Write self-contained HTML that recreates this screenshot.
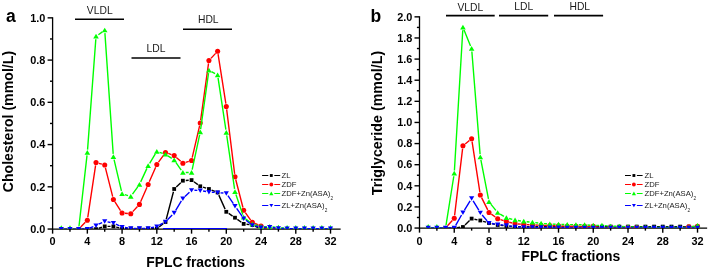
<!DOCTYPE html>
<html><head><meta charset="utf-8"><style>
html,body{margin:0;padding:0;background:#fff;}
body{width:709px;height:270px;overflow:hidden;}
svg{display:block;will-change:transform;}
text{font-family:"Liberation Sans",sans-serif;fill:#000;}
.tl{font-size:10.9px;font-weight:bold;}
.bl{font-size:10.3px;fill:#1a1a1a;}
.lg{font-size:7.68px;fill:#1a1a1a;}
.sb{font-size:4.7px;}
.pl{font-size:17.5px;font-weight:bold;}
.at{font-size:13.9px;font-weight:bold;}
</style></head><body>
<svg width="709" height="270" viewBox="0 0 709 270">
<rect width="709" height="270" fill="#fff"/>
<clipPath id="ca"><rect x="51.60" y="0" width="289.40" height="229.05"/></clipPath>
<path d="M52.60 17.85V229.05H340.00" stroke="#000" stroke-width="1.3" fill="none" stroke-linecap="square"/>
<line x1="47.60" y1="229.05" x2="52.60" y2="229.05" stroke="#000" stroke-width="1.4"/>
<text x="45.40" y="232.75" class="tl" text-anchor="end">0.0</text>
<line x1="50.00" y1="207.93" x2="52.60" y2="207.93" stroke="#000" stroke-width="1.4"/>
<line x1="47.60" y1="186.81" x2="52.60" y2="186.81" stroke="#000" stroke-width="1.4"/>
<text x="45.40" y="190.51" class="tl" text-anchor="end">0.2</text>
<line x1="50.00" y1="165.69" x2="52.60" y2="165.69" stroke="#000" stroke-width="1.4"/>
<line x1="47.60" y1="144.57" x2="52.60" y2="144.57" stroke="#000" stroke-width="1.4"/>
<text x="45.40" y="148.27" class="tl" text-anchor="end">0.4</text>
<line x1="50.00" y1="123.45" x2="52.60" y2="123.45" stroke="#000" stroke-width="1.4"/>
<line x1="47.60" y1="102.33" x2="52.60" y2="102.33" stroke="#000" stroke-width="1.4"/>
<text x="45.40" y="106.03" class="tl" text-anchor="end">0.6</text>
<line x1="50.00" y1="81.21" x2="52.60" y2="81.21" stroke="#000" stroke-width="1.4"/>
<line x1="47.60" y1="60.09" x2="52.60" y2="60.09" stroke="#000" stroke-width="1.4"/>
<text x="45.40" y="63.79" class="tl" text-anchor="end">0.8</text>
<line x1="50.00" y1="38.97" x2="52.60" y2="38.97" stroke="#000" stroke-width="1.4"/>
<line x1="47.60" y1="17.85" x2="52.60" y2="17.85" stroke="#000" stroke-width="1.4"/>
<text x="45.40" y="21.55" class="tl" text-anchor="end">1.0</text>
<line x1="52.60" y1="229.05" x2="52.60" y2="233.65" stroke="#000" stroke-width="1.4"/>
<text x="52.60" y="244.70" class="tl" text-anchor="middle">0</text>
<line x1="69.97" y1="229.05" x2="69.97" y2="231.65" stroke="#000" stroke-width="1.4"/>
<line x1="87.34" y1="229.05" x2="87.34" y2="233.65" stroke="#000" stroke-width="1.4"/>
<text x="87.34" y="244.70" class="tl" text-anchor="middle">4</text>
<line x1="104.71" y1="229.05" x2="104.71" y2="231.65" stroke="#000" stroke-width="1.4"/>
<line x1="122.08" y1="229.05" x2="122.08" y2="233.65" stroke="#000" stroke-width="1.4"/>
<text x="122.08" y="244.70" class="tl" text-anchor="middle">8</text>
<line x1="139.45" y1="229.05" x2="139.45" y2="231.65" stroke="#000" stroke-width="1.4"/>
<line x1="156.82" y1="229.05" x2="156.82" y2="233.65" stroke="#000" stroke-width="1.4"/>
<text x="156.82" y="244.70" class="tl" text-anchor="middle">12</text>
<line x1="174.19" y1="229.05" x2="174.19" y2="231.65" stroke="#000" stroke-width="1.4"/>
<line x1="191.56" y1="229.05" x2="191.56" y2="233.65" stroke="#000" stroke-width="1.4"/>
<text x="191.56" y="244.70" class="tl" text-anchor="middle">16</text>
<line x1="208.93" y1="229.05" x2="208.93" y2="231.65" stroke="#000" stroke-width="1.4"/>
<line x1="226.30" y1="229.05" x2="226.30" y2="233.65" stroke="#000" stroke-width="1.4"/>
<text x="226.30" y="244.70" class="tl" text-anchor="middle">20</text>
<line x1="243.67" y1="229.05" x2="243.67" y2="231.65" stroke="#000" stroke-width="1.4"/>
<line x1="261.04" y1="229.05" x2="261.04" y2="233.65" stroke="#000" stroke-width="1.4"/>
<text x="261.04" y="244.70" class="tl" text-anchor="middle">24</text>
<line x1="278.41" y1="229.05" x2="278.41" y2="231.65" stroke="#000" stroke-width="1.4"/>
<line x1="295.78" y1="229.05" x2="295.78" y2="233.65" stroke="#000" stroke-width="1.4"/>
<text x="295.78" y="244.70" class="tl" text-anchor="middle">28</text>
<line x1="313.15" y1="229.05" x2="313.15" y2="231.65" stroke="#000" stroke-width="1.4"/>
<line x1="330.52" y1="229.05" x2="330.52" y2="233.65" stroke="#000" stroke-width="1.4"/>
<text x="330.52" y="244.70" class="tl" text-anchor="middle">32</text>
<g clip-path="url(#ca)">
<path d="M64.19 229.10L67.07 229.10M72.87 229.10L75.75 229.10M81.56 229.10L84.44 229.10M90.24 229.10L93.12 229.10M98.79 228.24L101.94 227.26M107.61 226.40L110.50 226.40M116.21 227.11L119.27 227.89M124.98 228.60L127.87 228.60M133.67 228.60L136.55 228.60M142.35 228.60L145.24 228.60M151.04 228.60L153.92 228.60M159.13 226.85L163.20 223.75M166.24 219.20L173.45 191.80M176.29 187.00L180.78 182.70M185.77 180.50L188.67 180.30M193.92 181.78L197.88 184.62M203.01 187.16L206.16 188.14M211.62 190.08L214.93 191.42M218.81 195.14L225.11 209.16M228.70 213.43L232.59 216.07M237.35 219.38L241.31 222.22M246.55 224.26L249.48 224.64M254.98 226.24L258.42 227.86M263.94 229.10L266.83 229.10M272.62 229.10L275.51 229.10M281.31 229.10L284.20 229.10M290.00 229.10L292.88 229.10M298.68 229.10L301.57 229.10M307.37 229.10L310.25 229.10M316.05 229.10L318.94 229.10M324.74 229.10L327.62 229.10" stroke="#000000" stroke-width="1.4" fill="none"/>
<rect x="59.39" y="227.20" width="3.80" height="3.80" fill="#000000"/>
<rect x="68.07" y="227.20" width="3.80" height="3.80" fill="#000000"/>
<rect x="76.75" y="227.20" width="3.80" height="3.80" fill="#000000"/>
<rect x="85.44" y="227.20" width="3.80" height="3.80" fill="#000000"/>
<rect x="94.12" y="227.20" width="3.80" height="3.80" fill="#000000"/>
<rect x="102.81" y="224.50" width="3.80" height="3.80" fill="#000000"/>
<rect x="111.50" y="224.50" width="3.80" height="3.80" fill="#000000"/>
<rect x="120.18" y="226.70" width="3.80" height="3.80" fill="#000000"/>
<rect x="128.87" y="226.70" width="3.80" height="3.80" fill="#000000"/>
<rect x="137.55" y="226.70" width="3.80" height="3.80" fill="#000000"/>
<rect x="146.24" y="226.70" width="3.80" height="3.80" fill="#000000"/>
<rect x="154.92" y="226.70" width="3.80" height="3.80" fill="#000000"/>
<rect x="163.60" y="220.10" width="3.80" height="3.80" fill="#000000"/>
<rect x="172.29" y="187.10" width="3.80" height="3.80" fill="#000000"/>
<rect x="180.97" y="178.80" width="3.80" height="3.80" fill="#000000"/>
<rect x="189.66" y="178.20" width="3.80" height="3.80" fill="#000000"/>
<rect x="198.34" y="184.40" width="3.80" height="3.80" fill="#000000"/>
<rect x="207.03" y="187.10" width="3.80" height="3.80" fill="#000000"/>
<rect x="215.72" y="190.60" width="3.80" height="3.80" fill="#000000"/>
<rect x="224.40" y="209.90" width="3.80" height="3.80" fill="#000000"/>
<rect x="233.09" y="215.80" width="3.80" height="3.80" fill="#000000"/>
<rect x="241.77" y="222.00" width="3.80" height="3.80" fill="#000000"/>
<rect x="250.46" y="223.10" width="3.80" height="3.80" fill="#000000"/>
<path d="M64.19 229.10L67.07 229.10M72.87 229.10L75.75 229.10M80.69 227.04L85.30 222.36M87.77 217.43L95.59 165.37M98.81 163.30L101.92 164.20M105.42 167.81L112.69 196.69M114.96 201.94L120.51 210.56M124.97 213.25L127.88 213.50M132.74 211.63L137.48 206.52M140.61 201.74L146.98 187.16M149.29 181.84L155.66 167.16M158.52 162.15L163.80 154.85M168.25 153.45L171.45 154.55M176.35 157.43L180.71 161.32M185.64 162.37L188.80 161.38M192.21 157.67L199.59 125.83M200.64 120.13L208.53 63.37M210.92 58.39L215.63 53.36M218.07 54.11L225.85 103.64M226.66 109.38L234.63 173.82M235.71 179.51L242.94 207.49M245.36 212.66L250.66 220.04M255.03 223.51L258.36 224.89M263.77 226.97L266.99 228.13M272.62 229.10L275.51 229.10M281.31 229.10L284.20 229.10M290.00 229.10L292.88 229.10M298.68 229.10L301.57 229.10M307.37 229.10L310.25 229.10M316.05 229.10L318.94 229.10M324.74 229.10L327.62 229.10" stroke="#ff0000" stroke-width="1.4" fill="none"/>
<circle cx="87.34" cy="220.30" r="2.55" fill="#ff0000"/>
<circle cx="96.03" cy="162.50" r="2.55" fill="#ff0000"/>
<circle cx="104.71" cy="165.00" r="2.55" fill="#ff0000"/>
<circle cx="113.40" cy="199.50" r="2.55" fill="#ff0000"/>
<circle cx="122.08" cy="213.00" r="2.55" fill="#ff0000"/>
<circle cx="130.77" cy="213.75" r="2.55" fill="#ff0000"/>
<circle cx="139.45" cy="204.40" r="2.55" fill="#ff0000"/>
<circle cx="148.14" cy="184.50" r="2.55" fill="#ff0000"/>
<circle cx="156.82" cy="164.50" r="2.55" fill="#ff0000"/>
<circle cx="165.50" cy="152.50" r="2.55" fill="#ff0000"/>
<circle cx="174.19" cy="155.50" r="2.55" fill="#ff0000"/>
<circle cx="182.88" cy="163.25" r="2.55" fill="#ff0000"/>
<circle cx="191.56" cy="160.50" r="2.55" fill="#ff0000"/>
<circle cx="200.25" cy="123.00" r="2.55" fill="#ff0000"/>
<circle cx="208.93" cy="60.50" r="2.55" fill="#ff0000"/>
<circle cx="217.62" cy="51.25" r="2.55" fill="#ff0000"/>
<circle cx="226.30" cy="106.50" r="2.55" fill="#ff0000"/>
<circle cx="234.99" cy="176.70" r="2.55" fill="#ff0000"/>
<circle cx="243.67" cy="210.30" r="2.55" fill="#ff0000"/>
<circle cx="252.36" cy="222.40" r="2.55" fill="#ff0000"/>
<circle cx="261.04" cy="226.00" r="2.55" fill="#ff0000"/>
<path d="M64.19 229.10L67.07 229.10M72.87 229.10L75.75 229.10M78.98 226.22L87.01 155.38M87.56 149.61L95.81 39.29M98.39 34.72L102.35 31.88M104.91 33.09L113.20 153.86M114.06 159.57L121.42 190.93M124.84 194.63L128.00 195.62M132.47 194.15L137.75 186.85M140.67 181.87L146.92 168.38M149.64 163.27L155.31 153.98M159.58 152.38L162.74 153.37M167.92 155.85L171.77 158.40M175.84 162.38L181.22 170.12M185.78 172.50L188.66 172.50M192.17 169.66L199.64 134.84M200.65 129.13L208.53 73.17M211.48 71.68L215.06 73.62M218.05 77.87L225.87 129.63M226.72 135.37L234.56 188.93M235.92 194.55L242.74 214.65M245.98 219.15L250.05 222.25M255.13 224.83L258.26 225.77M263.94 226.60L266.83 226.60M272.61 226.87L275.52 227.13M281.28 227.80L284.22 228.20M290.00 228.60L292.88 228.60M298.68 228.60L301.57 228.60M307.37 228.60L310.25 228.60M316.05 228.60L318.94 228.60M324.74 228.60L327.62 228.60" stroke="#00ff00" stroke-width="1.4" fill="none"/>
<path d="M61.29 225.25L64.09 229.97L58.49 229.97Z" fill="#00ff00"/>
<path d="M69.97 225.25L72.77 229.97L67.17 229.97Z" fill="#00ff00"/>
<path d="M78.66 226.55L81.45 231.27L75.86 231.27Z" fill="#00ff00"/>
<path d="M87.34 149.95L90.14 154.67L84.54 154.67Z" fill="#00ff00"/>
<path d="M96.03 33.85L98.83 38.57L93.23 38.57Z" fill="#00ff00"/>
<path d="M104.71 27.65L107.51 32.37L101.91 32.37Z" fill="#00ff00"/>
<path d="M113.40 154.20L116.20 158.92L110.60 158.92Z" fill="#00ff00"/>
<path d="M122.08 191.20L124.88 195.92L119.28 195.92Z" fill="#00ff00"/>
<path d="M130.77 193.95L133.57 198.67L127.97 198.67Z" fill="#00ff00"/>
<path d="M139.45 181.95L142.25 186.67L136.65 186.67Z" fill="#00ff00"/>
<path d="M148.14 163.20L150.94 167.92L145.34 167.92Z" fill="#00ff00"/>
<path d="M156.82 148.95L159.62 153.67L154.02 153.67Z" fill="#00ff00"/>
<path d="M165.50 151.70L168.31 156.42L162.70 156.42Z" fill="#00ff00"/>
<path d="M174.19 157.45L176.99 162.17L171.39 162.17Z" fill="#00ff00"/>
<path d="M182.88 169.95L185.68 174.67L180.07 174.67Z" fill="#00ff00"/>
<path d="M191.56 169.95L194.36 174.67L188.76 174.67Z" fill="#00ff00"/>
<path d="M200.25 129.45L203.05 134.17L197.44 134.17Z" fill="#00ff00"/>
<path d="M208.93 67.75L211.73 72.47L206.13 72.47Z" fill="#00ff00"/>
<path d="M217.62 72.45L220.42 77.17L214.81 77.17Z" fill="#00ff00"/>
<path d="M226.30 129.95L229.10 134.67L223.50 134.67Z" fill="#00ff00"/>
<path d="M234.99 189.25L237.79 193.97L232.19 193.97Z" fill="#00ff00"/>
<path d="M243.67 214.85L246.47 219.57L240.87 219.57Z" fill="#00ff00"/>
<path d="M252.36 221.45L255.16 226.17L249.56 226.17Z" fill="#00ff00"/>
<path d="M261.04 224.05L263.84 228.77L258.24 228.77Z" fill="#00ff00"/>
<path d="M269.73 224.05L272.53 228.77L266.93 228.77Z" fill="#00ff00"/>
<path d="M278.41 224.85L281.21 229.57L275.61 229.57Z" fill="#00ff00"/>
<path d="M287.10 224.95L289.90 229.67L284.30 229.67Z" fill="#00ff00"/>
<path d="M295.78 224.95L298.58 229.67L292.98 229.67Z" fill="#00ff00"/>
<path d="M304.47 224.95L307.27 229.67L301.67 229.67Z" fill="#00ff00"/>
<path d="M313.15 224.95L315.95 229.67L310.35 229.67Z" fill="#00ff00"/>
<path d="M321.84 224.95L324.64 229.67L319.04 229.67Z" fill="#00ff00"/>
<path d="M330.52 224.95L333.32 229.67L327.72 229.67Z" fill="#00ff00"/>
<path d="M64.19 229.10L67.07 229.10M72.87 229.10L75.75 229.10M81.56 229.10L84.44 229.10M90.02 227.99L93.35 226.61M98.64 224.24L102.10 222.56M107.56 221.86L110.55 222.44M116.03 224.21L119.45 225.79M124.94 227.46L127.90 227.94M133.67 228.40L136.55 228.40M142.35 228.40L145.24 228.40M150.97 227.81L153.98 227.19M159.36 225.20L162.97 223.20M167.52 219.71L172.18 214.89M175.70 210.32L181.37 200.98M184.97 196.50L189.46 192.20M194.46 190.30L197.35 190.40M203.10 190.99L206.07 191.51M211.82 192.20L214.72 192.40M220.51 192.83L223.41 193.07M227.94 195.69L233.35 203.61M236.64 208.38L242.02 216.12M245.97 220.27L250.06 223.43M255.16 225.94L258.24 226.76M263.94 227.37L266.83 227.23M272.59 227.53L275.54 227.97M281.31 228.47L284.20 228.53M290.00 228.60L292.88 228.60M298.68 228.60L301.57 228.60M307.37 228.60L310.25 228.60M316.05 228.60L318.94 228.60M324.74 228.60L327.62 228.60" stroke="#0000ff" stroke-width="1.4" fill="none"/>
<path d="M61.29 231.50L63.89 227.06L58.69 227.06Z" fill="#0000ff"/>
<path d="M69.97 231.50L72.57 227.06L67.37 227.06Z" fill="#0000ff"/>
<path d="M78.66 231.50L81.25 227.06L76.06 227.06Z" fill="#0000ff"/>
<path d="M87.34 231.50L89.94 227.06L84.74 227.06Z" fill="#0000ff"/>
<path d="M96.03 227.90L98.62 223.46L93.43 223.46Z" fill="#0000ff"/>
<path d="M104.71 223.70L107.31 219.26L102.11 219.26Z" fill="#0000ff"/>
<path d="M113.40 225.40L116.00 220.96L110.80 220.96Z" fill="#0000ff"/>
<path d="M122.08 229.40L124.68 224.96L119.48 224.96Z" fill="#0000ff"/>
<path d="M130.77 230.80L133.37 226.36L128.17 226.36Z" fill="#0000ff"/>
<path d="M139.45 230.80L142.05 226.36L136.85 226.36Z" fill="#0000ff"/>
<path d="M148.14 230.80L150.74 226.36L145.54 226.36Z" fill="#0000ff"/>
<path d="M156.82 229.00L159.42 224.56L154.22 224.56Z" fill="#0000ff"/>
<path d="M165.50 224.20L168.10 219.76L162.91 219.76Z" fill="#0000ff"/>
<path d="M174.19 215.20L176.79 210.76L171.59 210.76Z" fill="#0000ff"/>
<path d="M182.88 200.90L185.47 196.46L180.28 196.46Z" fill="#0000ff"/>
<path d="M191.56 192.60L194.16 188.16L188.96 188.16Z" fill="#0000ff"/>
<path d="M200.25 192.90L202.84 188.46L197.65 188.46Z" fill="#0000ff"/>
<path d="M208.93 194.40L211.53 189.96L206.33 189.96Z" fill="#0000ff"/>
<path d="M217.62 195.00L220.22 190.56L215.02 190.56Z" fill="#0000ff"/>
<path d="M226.30 195.70L228.90 191.26L223.70 191.26Z" fill="#0000ff"/>
<path d="M234.99 208.40L237.59 203.96L232.39 203.96Z" fill="#0000ff"/>
<path d="M243.67 220.90L246.27 216.46L241.07 216.46Z" fill="#0000ff"/>
<path d="M252.36 227.60L254.96 223.16L249.76 223.16Z" fill="#0000ff"/>
<path d="M261.04 229.90L263.64 225.46L258.44 225.46Z" fill="#0000ff"/>
<path d="M269.73 229.50L272.33 225.06L267.12 225.06Z" fill="#0000ff"/>
<path d="M278.41 230.80L281.01 226.36L275.81 226.36Z" fill="#0000ff"/>
<path d="M287.10 231.00L289.70 226.56L284.50 226.56Z" fill="#0000ff"/>
<path d="M295.78 231.00L298.38 226.56L293.18 226.56Z" fill="#0000ff"/>
<path d="M304.47 231.00L307.07 226.56L301.87 226.56Z" fill="#0000ff"/>
<path d="M313.15 231.00L315.75 226.56L310.55 226.56Z" fill="#0000ff"/>
<path d="M321.84 231.00L324.44 226.56L319.24 226.56Z" fill="#0000ff"/>
<path d="M330.52 231.00L333.12 226.56L327.92 226.56Z" fill="#0000ff"/>
</g>
<clipPath id="cb"><rect x="418.50" y="0" width="289.00" height="228.05"/></clipPath>
<path d="M419.50 16.85V228.05H706.50" stroke="#000" stroke-width="1.3" fill="none" stroke-linecap="square"/>
<line x1="414.50" y1="228.05" x2="419.50" y2="228.05" stroke="#000" stroke-width="1.4"/>
<text x="412.30" y="231.75" class="tl" text-anchor="end">0.0</text>
<line x1="416.90" y1="217.49" x2="419.50" y2="217.49" stroke="#000" stroke-width="1.4"/>
<line x1="414.50" y1="206.93" x2="419.50" y2="206.93" stroke="#000" stroke-width="1.4"/>
<text x="412.30" y="210.63" class="tl" text-anchor="end">0.2</text>
<line x1="416.90" y1="196.37" x2="419.50" y2="196.37" stroke="#000" stroke-width="1.4"/>
<line x1="414.50" y1="185.81" x2="419.50" y2="185.81" stroke="#000" stroke-width="1.4"/>
<text x="412.30" y="189.51" class="tl" text-anchor="end">0.4</text>
<line x1="416.90" y1="175.25" x2="419.50" y2="175.25" stroke="#000" stroke-width="1.4"/>
<line x1="414.50" y1="164.69" x2="419.50" y2="164.69" stroke="#000" stroke-width="1.4"/>
<text x="412.30" y="168.39" class="tl" text-anchor="end">0.6</text>
<line x1="416.90" y1="154.13" x2="419.50" y2="154.13" stroke="#000" stroke-width="1.4"/>
<line x1="414.50" y1="143.57" x2="419.50" y2="143.57" stroke="#000" stroke-width="1.4"/>
<text x="412.30" y="147.27" class="tl" text-anchor="end">0.8</text>
<line x1="416.90" y1="133.01" x2="419.50" y2="133.01" stroke="#000" stroke-width="1.4"/>
<line x1="414.50" y1="122.45" x2="419.50" y2="122.45" stroke="#000" stroke-width="1.4"/>
<text x="412.30" y="126.15" class="tl" text-anchor="end">1.0</text>
<line x1="416.90" y1="111.89" x2="419.50" y2="111.89" stroke="#000" stroke-width="1.4"/>
<line x1="414.50" y1="101.33" x2="419.50" y2="101.33" stroke="#000" stroke-width="1.4"/>
<text x="412.30" y="105.03" class="tl" text-anchor="end">1.2</text>
<line x1="416.90" y1="90.77" x2="419.50" y2="90.77" stroke="#000" stroke-width="1.4"/>
<line x1="414.50" y1="80.21" x2="419.50" y2="80.21" stroke="#000" stroke-width="1.4"/>
<text x="412.30" y="83.91" class="tl" text-anchor="end">1.4</text>
<line x1="416.90" y1="69.65" x2="419.50" y2="69.65" stroke="#000" stroke-width="1.4"/>
<line x1="414.50" y1="59.09" x2="419.50" y2="59.09" stroke="#000" stroke-width="1.4"/>
<text x="412.30" y="62.79" class="tl" text-anchor="end">1.6</text>
<line x1="416.90" y1="48.53" x2="419.50" y2="48.53" stroke="#000" stroke-width="1.4"/>
<line x1="414.50" y1="37.97" x2="419.50" y2="37.97" stroke="#000" stroke-width="1.4"/>
<text x="412.30" y="41.67" class="tl" text-anchor="end">1.8</text>
<line x1="416.90" y1="27.41" x2="419.50" y2="27.41" stroke="#000" stroke-width="1.4"/>
<line x1="414.50" y1="16.85" x2="419.50" y2="16.85" stroke="#000" stroke-width="1.4"/>
<text x="412.30" y="20.55" class="tl" text-anchor="end">2.0</text>
<line x1="419.50" y1="228.05" x2="419.50" y2="232.65" stroke="#000" stroke-width="1.4"/>
<text x="419.50" y="244.50" class="tl" text-anchor="middle">0</text>
<line x1="436.88" y1="228.05" x2="436.88" y2="230.65" stroke="#000" stroke-width="1.4"/>
<line x1="454.25" y1="228.05" x2="454.25" y2="232.65" stroke="#000" stroke-width="1.4"/>
<text x="454.25" y="244.50" class="tl" text-anchor="middle">4</text>
<line x1="471.63" y1="228.05" x2="471.63" y2="230.65" stroke="#000" stroke-width="1.4"/>
<line x1="489.00" y1="228.05" x2="489.00" y2="232.65" stroke="#000" stroke-width="1.4"/>
<text x="489.00" y="244.50" class="tl" text-anchor="middle">8</text>
<line x1="506.38" y1="228.05" x2="506.38" y2="230.65" stroke="#000" stroke-width="1.4"/>
<line x1="523.76" y1="228.05" x2="523.76" y2="232.65" stroke="#000" stroke-width="1.4"/>
<text x="523.76" y="244.50" class="tl" text-anchor="middle">12</text>
<line x1="541.13" y1="228.05" x2="541.13" y2="230.65" stroke="#000" stroke-width="1.4"/>
<line x1="558.51" y1="228.05" x2="558.51" y2="232.65" stroke="#000" stroke-width="1.4"/>
<text x="558.51" y="244.50" class="tl" text-anchor="middle">16</text>
<line x1="575.88" y1="228.05" x2="575.88" y2="230.65" stroke="#000" stroke-width="1.4"/>
<line x1="593.26" y1="228.05" x2="593.26" y2="232.65" stroke="#000" stroke-width="1.4"/>
<text x="593.26" y="244.50" class="tl" text-anchor="middle">20</text>
<line x1="610.64" y1="228.05" x2="610.64" y2="230.65" stroke="#000" stroke-width="1.4"/>
<line x1="628.01" y1="228.05" x2="628.01" y2="232.65" stroke="#000" stroke-width="1.4"/>
<text x="628.01" y="244.50" class="tl" text-anchor="middle">24</text>
<line x1="645.39" y1="228.05" x2="645.39" y2="230.65" stroke="#000" stroke-width="1.4"/>
<line x1="662.76" y1="228.05" x2="662.76" y2="232.65" stroke="#000" stroke-width="1.4"/>
<text x="662.76" y="244.50" class="tl" text-anchor="middle">28</text>
<line x1="680.14" y1="228.05" x2="680.14" y2="230.65" stroke="#000" stroke-width="1.4"/>
<line x1="697.52" y1="228.05" x2="697.52" y2="232.65" stroke="#000" stroke-width="1.4"/>
<text x="697.52" y="244.50" class="tl" text-anchor="middle">32</text>
<g clip-path="url(#cb)">
<path d="M431.09 227.90L433.98 227.90M439.78 227.90L442.66 227.90M448.46 227.90L451.35 227.90M457.14 227.60L460.06 227.30M465.02 224.98L469.54 220.62M474.46 219.22L477.48 219.88M483.10 221.30L486.22 222.20M491.83 223.65L494.87 224.35M500.57 225.33L503.50 225.67M509.27 226.20L512.17 226.40M517.97 226.60L520.86 226.60M526.66 226.60L529.54 226.60M535.34 226.60L538.23 226.60M544.03 226.60L546.92 226.60M552.72 226.60L555.61 226.60M561.41 226.60L564.30 226.60M570.10 226.60L572.98 226.60M578.78 226.60L581.67 226.60M587.47 226.60L590.36 226.60M596.16 226.60L599.05 226.60M604.85 226.60L607.74 226.60M613.54 226.60L616.42 226.60M622.22 226.60L625.11 226.60M630.91 226.60L633.80 226.60M639.60 226.60L642.49 226.60M648.29 226.60L651.18 226.60M656.98 226.60L659.86 226.60M665.66 226.60L668.55 226.60M674.35 226.60L677.24 226.60M683.04 226.60L685.93 226.60M691.73 226.60L694.62 226.60" stroke="#000000" stroke-width="1.4" fill="none"/>
<rect x="426.29" y="226.00" width="3.80" height="3.80" fill="#000000"/>
<rect x="434.98" y="226.00" width="3.80" height="3.80" fill="#000000"/>
<rect x="443.66" y="226.00" width="3.80" height="3.80" fill="#000000"/>
<rect x="452.35" y="226.00" width="3.80" height="3.80" fill="#000000"/>
<rect x="461.04" y="225.10" width="3.80" height="3.80" fill="#000000"/>
<rect x="469.73" y="216.70" width="3.80" height="3.80" fill="#000000"/>
<rect x="478.42" y="218.60" width="3.80" height="3.80" fill="#000000"/>
<rect x="487.10" y="221.10" width="3.80" height="3.80" fill="#000000"/>
<rect x="495.79" y="223.10" width="3.80" height="3.80" fill="#000000"/>
<rect x="504.48" y="224.10" width="3.80" height="3.80" fill="#000000"/>
<rect x="513.17" y="224.70" width="3.80" height="3.80" fill="#000000"/>
<rect x="521.86" y="224.70" width="3.80" height="3.80" fill="#000000"/>
<rect x="530.54" y="224.70" width="3.80" height="3.80" fill="#000000"/>
<rect x="539.23" y="224.70" width="3.80" height="3.80" fill="#000000"/>
<rect x="547.92" y="224.70" width="3.80" height="3.80" fill="#000000"/>
<rect x="556.61" y="224.70" width="3.80" height="3.80" fill="#000000"/>
<rect x="565.30" y="224.70" width="3.80" height="3.80" fill="#000000"/>
<rect x="573.98" y="224.70" width="3.80" height="3.80" fill="#000000"/>
<rect x="582.67" y="224.70" width="3.80" height="3.80" fill="#000000"/>
<rect x="591.36" y="224.70" width="3.80" height="3.80" fill="#000000"/>
<rect x="600.05" y="224.70" width="3.80" height="3.80" fill="#000000"/>
<rect x="608.74" y="224.70" width="3.80" height="3.80" fill="#000000"/>
<rect x="617.42" y="224.70" width="3.80" height="3.80" fill="#000000"/>
<rect x="626.11" y="224.70" width="3.80" height="3.80" fill="#000000"/>
<rect x="634.80" y="224.70" width="3.80" height="3.80" fill="#000000"/>
<rect x="643.49" y="224.70" width="3.80" height="3.80" fill="#000000"/>
<rect x="652.18" y="224.70" width="3.80" height="3.80" fill="#000000"/>
<rect x="660.86" y="224.70" width="3.80" height="3.80" fill="#000000"/>
<rect x="669.55" y="224.70" width="3.80" height="3.80" fill="#000000"/>
<rect x="678.24" y="224.70" width="3.80" height="3.80" fill="#000000"/>
<rect x="686.93" y="224.70" width="3.80" height="3.80" fill="#000000"/>
<rect x="695.62" y="224.70" width="3.80" height="3.80" fill="#000000"/>
<path d="M431.09 227.90L433.98 227.90M439.78 227.90L442.66 227.90M447.51 225.75L452.31 220.45M454.60 215.42L462.60 148.63M465.20 143.93L469.37 140.57M472.07 141.62L479.87 192.13M481.61 197.60L487.71 209.90M491.36 214.18L495.33 217.02M500.45 219.59L503.62 220.61M509.19 222.21L512.26 222.99M517.96 223.93L520.87 224.17M526.65 224.60L529.55 224.80M535.34 225.07L538.23 225.13M544.03 225.33L546.92 225.47M552.72 225.70L555.61 225.80M561.41 226.00L564.30 226.10M570.10 226.23L572.98 226.27M578.78 226.33L581.67 226.37M587.47 226.33L590.36 226.27M596.10 226.79L599.11 227.41M604.84 227.80L607.74 227.60M613.53 227.60L616.43 227.80M622.22 227.87L625.12 227.73M630.91 227.60L633.80 227.60M639.60 227.73L642.49 227.87M648.29 228.00L651.18 228.00M656.98 228.00L659.86 228.00M665.66 228.00L668.55 228.00M674.35 228.00L677.24 228.00M683.01 227.60L685.96 227.20M691.72 226.67L694.62 226.53" stroke="#ff0000" stroke-width="1.4" fill="none"/>
<circle cx="454.25" cy="218.30" r="2.55" fill="#ff0000"/>
<circle cx="462.94" cy="145.75" r="2.55" fill="#ff0000"/>
<circle cx="471.63" cy="138.75" r="2.55" fill="#ff0000"/>
<circle cx="480.32" cy="195.00" r="2.55" fill="#ff0000"/>
<circle cx="489.00" cy="212.50" r="2.55" fill="#ff0000"/>
<circle cx="497.69" cy="218.70" r="2.55" fill="#ff0000"/>
<circle cx="506.38" cy="221.50" r="2.55" fill="#ff0000"/>
<circle cx="515.07" cy="223.70" r="2.55" fill="#ff0000"/>
<circle cx="523.76" cy="224.40" r="2.55" fill="#ff0000"/>
<circle cx="532.44" cy="225.00" r="2.55" fill="#ff0000"/>
<circle cx="541.13" cy="225.20" r="2.55" fill="#ff0000"/>
<circle cx="549.82" cy="225.60" r="2.55" fill="#ff0000"/>
<circle cx="558.51" cy="225.90" r="2.55" fill="#ff0000"/>
<circle cx="567.20" cy="226.20" r="2.55" fill="#ff0000"/>
<circle cx="575.88" cy="226.30" r="2.55" fill="#ff0000"/>
<circle cx="584.57" cy="226.40" r="2.55" fill="#ff0000"/>
<circle cx="593.26" cy="226.20" r="2.55" fill="#ff0000"/>
<circle cx="610.64" cy="227.40" r="2.55" fill="#ff0000"/>
<circle cx="628.01" cy="227.60" r="2.55" fill="#ff0000"/>
<circle cx="636.70" cy="227.60" r="2.55" fill="#ff0000"/>
<circle cx="688.83" cy="226.80" r="2.55" fill="#ff0000"/>
<circle cx="697.52" cy="226.40" r="2.55" fill="#ff0000"/>
<path d="M431.09 227.90L433.98 227.90M439.78 227.90L442.66 227.90M446.02 225.04L453.80 176.26M454.42 170.51L462.77 30.19M464.04 29.99L470.53 45.91M471.86 51.49L480.08 154.11M480.87 159.85L488.45 198.95M490.81 204.07L495.88 210.43M500.19 214.17L503.88 216.33M509.18 218.54L512.26 219.36M517.94 220.53L520.89 220.97M526.64 221.70L529.56 222.00M535.32 222.66L538.25 223.04M544.03 223.60L546.93 223.80M552.72 224.13L555.61 224.27M561.41 224.47L564.30 224.53M570.10 224.63L572.98 224.67M578.78 224.73L581.67 224.77M587.47 225.00L590.37 225.20M596.16 225.37L599.05 225.33M604.83 225.60L607.75 225.90M613.54 226.23L616.42 226.27M622.22 226.47L625.12 226.63M630.91 226.90L633.80 227.00M639.60 227.17L642.49 227.23M648.29 227.37L651.18 227.43M656.98 227.50L659.86 227.50M665.66 227.50L668.55 227.50M674.35 227.50L677.24 227.50M683.04 227.47L685.93 227.43M691.67 226.81L694.68 226.19" stroke="#00ff00" stroke-width="1.4" fill="none"/>
<path d="M428.19 224.05L430.99 228.77L425.39 228.77Z" fill="#00ff00"/>
<path d="M436.88 224.05L439.68 228.77L434.08 228.77Z" fill="#00ff00"/>
<path d="M445.56 225.35L448.36 230.07L442.76 230.07Z" fill="#00ff00"/>
<path d="M454.25 170.85L457.05 175.57L451.45 175.57Z" fill="#00ff00"/>
<path d="M462.94 24.75L465.74 29.47L460.14 29.47Z" fill="#00ff00"/>
<path d="M471.63 46.05L474.43 50.77L468.83 50.77Z" fill="#00ff00"/>
<path d="M480.32 154.45L483.12 159.17L477.52 159.17Z" fill="#00ff00"/>
<path d="M489.00 199.25L491.80 203.97L486.20 203.97Z" fill="#00ff00"/>
<path d="M497.69 210.15L500.49 214.87L494.89 214.87Z" fill="#00ff00"/>
<path d="M506.38 215.25L509.18 219.97L503.58 219.97Z" fill="#00ff00"/>
<path d="M515.07 217.55L517.87 222.27L512.27 222.27Z" fill="#00ff00"/>
<path d="M523.76 218.85L526.56 223.57L520.96 223.57Z" fill="#00ff00"/>
<path d="M532.44 219.75L535.24 224.47L529.64 224.47Z" fill="#00ff00"/>
<path d="M541.13 220.85L543.93 225.57L538.33 225.57Z" fill="#00ff00"/>
<path d="M549.82 221.45L552.62 226.17L547.02 226.17Z" fill="#00ff00"/>
<path d="M558.51 221.85L561.31 226.57L555.71 226.57Z" fill="#00ff00"/>
<path d="M567.20 222.05L570.00 226.77L564.40 226.77Z" fill="#00ff00"/>
<path d="M575.88 222.15L578.68 226.87L573.08 226.87Z" fill="#00ff00"/>
<path d="M584.57 222.25L587.37 226.97L581.77 226.97Z" fill="#00ff00"/>
<path d="M593.26 222.85L596.06 227.57L590.46 227.57Z" fill="#00ff00"/>
<path d="M601.95 222.75L604.75 227.47L599.15 227.47Z" fill="#00ff00"/>
<path d="M610.64 223.65L613.44 228.37L607.84 228.37Z" fill="#00ff00"/>
<path d="M619.32 223.75L622.12 228.47L616.52 228.47Z" fill="#00ff00"/>
<path d="M628.01 224.25L630.81 228.97L625.21 228.97Z" fill="#00ff00"/>
<path d="M636.70 224.55L639.50 229.27L633.90 229.27Z" fill="#00ff00"/>
<path d="M645.39 224.75L648.19 229.47L642.59 229.47Z" fill="#00ff00"/>
<path d="M654.08 224.95L656.88 229.67L651.28 229.67Z" fill="#00ff00"/>
<path d="M662.76 224.95L665.56 229.67L659.96 229.67Z" fill="#00ff00"/>
<path d="M671.45 224.95L674.25 229.67L668.65 229.67Z" fill="#00ff00"/>
<path d="M680.14 224.95L682.94 229.67L677.34 229.67Z" fill="#00ff00"/>
<path d="M688.83 224.85L691.63 229.57L686.03 229.57Z" fill="#00ff00"/>
<path d="M697.52 223.05L700.32 227.77L694.72 227.77Z" fill="#00ff00"/>
<path d="M431.09 227.90L433.98 227.90M439.78 227.90L442.66 227.90M448.46 227.90L451.35 227.90M455.68 225.37L461.52 215.03M464.46 210.03L470.11 200.87M473.13 200.88L478.81 210.22M482.18 214.93L487.14 220.87M491.87 223.56L494.83 224.04M500.58 224.80L503.50 225.10M509.24 225.86L512.20 226.34M517.96 226.93L520.86 227.07M526.66 227.23L529.54 227.27M535.34 227.33L538.23 227.37M544.03 227.43L546.92 227.47M552.72 227.53L555.61 227.57M561.41 227.70L564.30 227.80M570.10 227.90L572.98 227.90M578.78 227.90L581.67 227.90M587.47 227.90L590.36 227.90M596.16 227.90L599.05 227.90M604.85 227.90L607.74 227.90M613.54 227.90L616.42 227.90M622.22 227.90L625.11 227.90M630.91 227.90L633.80 227.90M639.60 227.90L642.49 227.90M648.29 227.90L651.18 227.90M656.98 227.90L659.86 227.90M665.66 227.90L668.55 227.90M674.35 227.90L677.24 227.90M683.04 227.90L685.93 227.90M691.73 227.90L694.62 227.90" stroke="#0000ff" stroke-width="1.4" fill="none"/>
<path d="M428.19 230.30L430.79 225.86L425.59 225.86Z" fill="#0000ff"/>
<path d="M436.88 230.30L439.48 225.86L434.28 225.86Z" fill="#0000ff"/>
<path d="M445.56 230.30L448.16 225.86L442.96 225.86Z" fill="#0000ff"/>
<path d="M454.25 230.30L456.85 225.86L451.65 225.86Z" fill="#0000ff"/>
<path d="M462.94 214.90L465.54 210.46L460.34 210.46Z" fill="#0000ff"/>
<path d="M471.63 200.80L474.23 196.36L469.03 196.36Z" fill="#0000ff"/>
<path d="M480.32 215.10L482.92 210.66L477.72 210.66Z" fill="#0000ff"/>
<path d="M489.00 225.50L491.60 221.06L486.40 221.06Z" fill="#0000ff"/>
<path d="M497.69 226.90L500.29 222.46L495.09 222.46Z" fill="#0000ff"/>
<path d="M506.38 227.80L508.98 223.36L503.78 223.36Z" fill="#0000ff"/>
<path d="M515.07 229.20L517.67 224.76L512.47 224.76Z" fill="#0000ff"/>
<path d="M523.76 229.60L526.36 225.16L521.16 225.16Z" fill="#0000ff"/>
<path d="M532.44 229.70L535.04 225.26L529.84 225.26Z" fill="#0000ff"/>
<path d="M541.13 229.80L543.73 225.36L538.53 225.36Z" fill="#0000ff"/>
<path d="M549.82 229.90L552.42 225.46L547.22 225.46Z" fill="#0000ff"/>
<path d="M558.51 230.00L561.11 225.56L555.91 225.56Z" fill="#0000ff"/>
<path d="M567.20 230.30L569.80 225.86L564.60 225.86Z" fill="#0000ff"/>
<path d="M575.88 230.30L578.48 225.86L573.28 225.86Z" fill="#0000ff"/>
<path d="M584.57 230.30L587.17 225.86L581.97 225.86Z" fill="#0000ff"/>
<path d="M593.26 230.30L595.86 225.86L590.66 225.86Z" fill="#0000ff"/>
<path d="M601.95 230.30L604.55 225.86L599.35 225.86Z" fill="#0000ff"/>
<path d="M610.64 230.30L613.24 225.86L608.04 225.86Z" fill="#0000ff"/>
<path d="M619.32 230.30L621.92 225.86L616.72 225.86Z" fill="#0000ff"/>
<path d="M628.01 230.30L630.61 225.86L625.41 225.86Z" fill="#0000ff"/>
<path d="M636.70 230.30L639.30 225.86L634.10 225.86Z" fill="#0000ff"/>
<path d="M645.39 230.30L647.99 225.86L642.79 225.86Z" fill="#0000ff"/>
<path d="M654.08 230.30L656.68 225.86L651.48 225.86Z" fill="#0000ff"/>
<path d="M662.76 230.30L665.36 225.86L660.16 225.86Z" fill="#0000ff"/>
<path d="M671.45 230.30L674.05 225.86L668.85 225.86Z" fill="#0000ff"/>
<path d="M680.14 230.30L682.74 225.86L677.54 225.86Z" fill="#0000ff"/>
<path d="M688.83 230.30L691.43 225.86L686.23 225.86Z" fill="#0000ff"/>
<path d="M697.52 230.30L700.12 225.86L694.92 225.86Z" fill="#0000ff"/>
</g>
<line x1="163" y1="228.5" x2="227" y2="228.5" stroke="#0000ff" stroke-width="1"/>
<line x1="75" y1="19.3" x2="124" y2="19.3" stroke="#000" stroke-width="1.6"/>
<text x="99.75" y="13.6" class="bl" text-anchor="middle">VLDL</text>
<line x1="131.5" y1="58" x2="180.5" y2="58" stroke="#000" stroke-width="1.6"/>
<text x="156.0" y="51.6" class="bl" text-anchor="middle">LDL</text>
<line x1="183" y1="29.2" x2="232" y2="29.2" stroke="#000" stroke-width="1.6"/>
<text x="208.3" y="23.0" class="bl" text-anchor="middle">HDL</text>
<line x1="446" y1="15.6" x2="494.7" y2="15.6" stroke="#000" stroke-width="1.6"/>
<text x="470.3" y="10.6" class="bl" text-anchor="middle">VLDL</text>
<line x1="499" y1="15.6" x2="548.2" y2="15.6" stroke="#000" stroke-width="1.6"/>
<text x="523.8" y="10.3" class="bl" text-anchor="middle">LDL</text>
<line x1="554" y1="15.6" x2="603.1" y2="15.6" stroke="#000" stroke-width="1.6"/>
<text x="579.8" y="10.0" class="bl" text-anchor="middle">HDL</text>
<line x1="262.10" y1="175.50" x2="268.30" y2="175.50" stroke="#000000" stroke-width="1"/>
<line x1="274.30" y1="175.50" x2="280.20" y2="175.50" stroke="#000000" stroke-width="1"/>
<rect x="269.88" y="174.07" width="2.85" height="2.85" fill="#000000"/>
<text x="281.60" y="178.00" class="lg">ZL</text>
<line x1="262.10" y1="184.50" x2="268.30" y2="184.50" stroke="#ff0000" stroke-width="1"/>
<line x1="274.30" y1="184.50" x2="280.20" y2="184.50" stroke="#ff0000" stroke-width="1"/>
<circle cx="271.30" cy="184.50" r="1.91" fill="#ff0000"/>
<text x="281.60" y="187.00" class="lg">ZDF</text>
<line x1="262.10" y1="193.50" x2="268.30" y2="193.50" stroke="#00ff00" stroke-width="1"/>
<line x1="274.30" y1="193.50" x2="280.20" y2="193.50" stroke="#00ff00" stroke-width="1"/>
<path d="M271.30 191.59L273.40 195.13L269.20 195.13Z" fill="#00ff00"/>
<text x="281.60" y="196.00" class="lg">ZDF+Zn(ASA)<tspan class="sb" dx="0.2" dy="3.8">2</tspan></text>
<line x1="262.10" y1="205.50" x2="268.30" y2="205.50" stroke="#0000ff" stroke-width="1"/>
<line x1="274.30" y1="205.50" x2="280.20" y2="205.50" stroke="#0000ff" stroke-width="1"/>
<path d="M271.30 207.30L273.25 203.97L269.35 203.97Z" fill="#0000ff"/>
<text x="281.60" y="208.00" class="lg">ZL+Zn(ASA)<tspan class="sb" dx="0.2" dy="3.8">2</tspan></text>
<line x1="625.00" y1="175.50" x2="630.90" y2="175.50" stroke="#000000" stroke-width="1"/>
<line x1="636.90" y1="175.50" x2="642.60" y2="175.50" stroke="#000000" stroke-width="1"/>
<rect x="632.48" y="174.07" width="2.85" height="2.85" fill="#000000"/>
<text x="644.50" y="178.00" class="lg">ZL</text>
<line x1="625.00" y1="184.50" x2="630.90" y2="184.50" stroke="#ff0000" stroke-width="1"/>
<line x1="636.90" y1="184.50" x2="642.60" y2="184.50" stroke="#ff0000" stroke-width="1"/>
<circle cx="633.90" cy="184.50" r="1.91" fill="#ff0000"/>
<text x="644.50" y="187.00" class="lg">ZDF</text>
<line x1="625.00" y1="193.50" x2="630.90" y2="193.50" stroke="#00ff00" stroke-width="1"/>
<line x1="636.90" y1="193.50" x2="642.60" y2="193.50" stroke="#00ff00" stroke-width="1"/>
<path d="M633.90 191.59L636.00 195.13L631.80 195.13Z" fill="#00ff00"/>
<text x="644.50" y="196.00" class="lg">ZDF+Zn(ASA)<tspan class="sb" dx="0.2" dy="3.8">2</tspan></text>
<line x1="625.00" y1="205.50" x2="630.90" y2="205.50" stroke="#0000ff" stroke-width="1"/>
<line x1="636.90" y1="205.50" x2="642.60" y2="205.50" stroke="#0000ff" stroke-width="1"/>
<path d="M633.90 207.30L635.85 203.97L631.95 203.97Z" fill="#0000ff"/>
<text x="644.50" y="208.00" class="lg">ZL+Zn(ASA)<tspan class="sb" dx="0.2" dy="3.8">2</tspan></text>
<text x="5.9" y="21.5" class="pl">a</text>
<text x="370.4" y="21.8" class="pl">b</text>
<text x="146.2" y="267.1" class="at">FPLC fractions</text>
<text x="521.4" y="260.9" class="at">FPLC fractions</text>
<text transform="translate(12.5 121.6) rotate(-90)" text-anchor="middle" class="at" style="font-size:14.15px">Cholesterol (mmol/L)</text>
<text transform="translate(381.9 123.0) rotate(-90)" text-anchor="middle" class="at" style="font-size:14.28px">Triglyceride (mmol/L)</text>
</svg>
</body></html>
